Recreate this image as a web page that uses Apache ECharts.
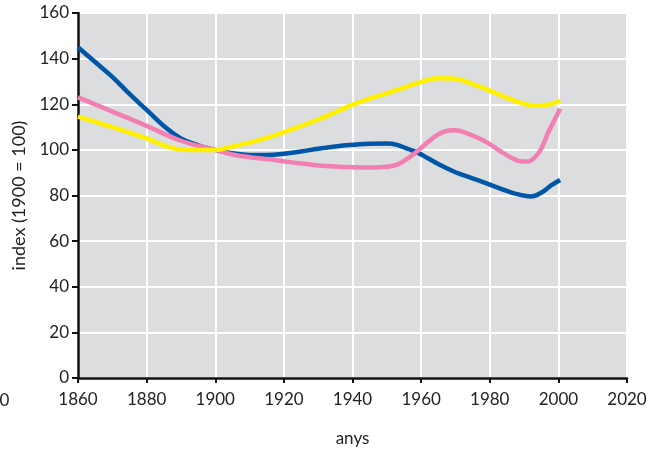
<!DOCTYPE html>
<html><head><meta charset="utf-8">
<script src="https://cdn.jsdelivr.net/npm/echarts@6/dist/echarts.min.js"></script>
<style>html,body{margin:0;padding:0;background:#fff}#c{width:654px;height:452px}</style>
</head><body><div id="c"></div>
<script>
const xTicks = [1860, 1880, 1900, 1920, 1940, 1960, 1980, 2000, 2020];
const yTicks = [0, 20, 40, 60, 80, 100, 120, 140, 160];

const blueYears = [1860,1865,1870,1875,1880,1885,1890,1895,1900,1905,1910,1915,1920,1925,1930,1935,1940,1945,1950,1953,1956,1959,1962,1966,1970,1975,1980,1985,1988,1992,1995,1998,2000.5];
const blueValues = [145,138.5,132,124.5,117.5,110.5,105,102,100,98.5,97.8,97.8,98.3,99.3,100.5,101.5,102.2,102.7,102.8,102.2,100.5,98.8,96.3,93,90.2,87.5,84.8,82,80.6,79.6,81.2,84.5,86.8];

const pinkYears = [1860,1870,1880,1890,1900,1905,1910,1915,1920,1925,1930,1935,1940,1945,1950,1953,1956,1959,1962,1965,1968,1970,1973,1977,1980,1983,1986,1989,1991,1993,1995,1997,1999,2000.5];
const pinkValues = [123,116.8,110.5,104,100,98,96.8,96,95,94,93.2,92.7,92.4,92.3,92.6,93.5,96.2,99.5,103.5,106.8,108.5,108.6,107.5,105,102.5,99.5,96.8,95,94.9,96.5,100.5,107.5,113.5,118];

const yellowYears = [1860,1870,1880,1887,1893,1900,1905,1910,1915,1920,1925,1930,1935,1940,1945,1950,1955,1960,1965,1970,1975,1980,1985,1990,1993,1997,2000.5];
const yellowValues = [114.6,110,105,101,100,100,101.5,103.2,105.3,107.8,110.4,113.3,116.5,119.8,122.5,124.8,127.3,129.8,131.4,131.2,128.8,126,122.8,120.2,119.5,119.8,121.6];

const pair = (xs, ys) => xs.map((x, i) => [x, ys[i]]);
const FONT = 'Lato';

const chart = echarts.init(document.getElementById('c'), null, {renderer: 'canvas'});
chart.setOption({
  animation: false,
  textStyle: {fontFamily: FONT},
  grid: {left: 78, right: 27, top: 13, bottom: 74, show: true, backgroundColor: '#dcdddf', borderWidth: 0},
  xAxis: {
    type: 'value', min: xTicks[0], max: xTicks[xTicks.length - 1], interval: 20,
    name: 'anys', nameLocation: 'middle', nameGap: 52,
    nameTextStyle: {fontFamily: FONT, fontSize: 17, color: '#222'},
    axisLine: {show: true, onZero: false, lineStyle: {color: '#111', width: 2.5}},
    axisTick: {show: true, length: 5, lineStyle: {color: '#111', width: 2}},
    axisLabel: {fontFamily: FONT, fontSize: 17, color: '#222', margin: 13, formatter: v => String(v)},
    splitLine: {show: true, lineStyle: {color: '#ffffff', width: 2}}
  },
  yAxis: {
    type: 'value', min: yTicks[0], max: yTicks[yTicks.length - 1], interval: 20,
    name: 'index (1900 = 100)', nameLocation: 'middle', nameGap: 48,
    nameTextStyle: {fontFamily: FONT, fontSize: 18, color: '#222'},
    axisLine: {show: true, lineStyle: {color: '#111', width: 2.5}},
    axisTick: {show: true, length: 6, lineStyle: {color: '#111', width: 2}},
    axisLabel: {fontFamily: FONT, fontSize: 17, color: '#222', margin: 9, formatter: v => String(v)},
    splitLine: {show: true, lineStyle: {color: '#ffffff', width: 2}}
  },
  graphic: [{
    type: 'text', left: -30, top: 392,
    style: {text: '1840', font: '17px Lato', fill: '#222'}
  }],
  series: [
    {name: 'blau', type: 'line', smooth: 0.4, showSymbol: false, data: pair(blueYears, blueValues), lineStyle: {color: '#0057a8', width: 4.5}, z: 2},
    {name: 'rosa', type: 'line', smooth: 0.4, showSymbol: false, data: pair(pinkYears, pinkValues), lineStyle: {color: '#f17fb2', width: 4.5}, z: 3},
    {name: 'groc', type: 'line', smooth: 0.4, showSymbol: false, data: pair(yellowYears, yellowValues), lineStyle: {color: '#fff000', width: 4.5}, z: 4}
  ]
});
</script></body></html>
